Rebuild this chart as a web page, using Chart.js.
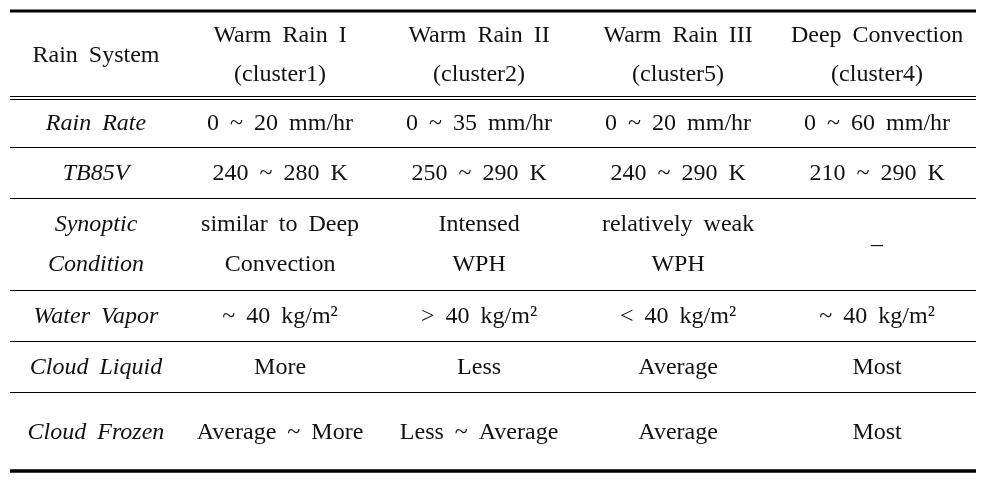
<!DOCTYPE html>
<html><head><meta charset="utf-8">
<script src="https://cdn.jsdelivr.net/npm/chart.js@4/dist/chart.umd.min.js"></script>
<style>html,body{margin:0;padding:0;background:#fff;} #wrap{width:986px;height:480px;position:relative;}</style>
</head><body><div id="wrap"><canvas id="c"></canvas></div>
<script>
// ---- table content (data) ----
const headerLabel = ['Rain System'];
const systems = [['Warm Rain I','(cluster1)'],['Warm Rain II','(cluster2)'],['Warm Rain III','(cluster5)'],['Deep Convection','(cluster4)']];
const rowLabels = [['Rain Rate'],['TB85V'],['Synoptic','Condition'],['Water Vapor'],['Cloud Liquid'],['Cloud Frozen']];
const rainRate = ['0 ~ 20 mm/hr','0 ~ 35 mm/hr','0 ~ 20 mm/hr','0 ~ 60 mm/hr'];
const tb85v = ['240 ~ 280 K','250 ~ 290 K','240 ~ 290 K','210 ~ 290 K'];
const synoptic = [['similar to Deep','Convection'],['Intensed','WPH'],['relatively weak','WPH'],['\u2013']];
const waterVapor = ['~ 40 kg/m\u00B2','> 40 kg/m\u00B2','< 40 kg/m\u00B2','~ 40 kg/m\u00B2'];
const cloudLiquid = ['More','Less','Average','Most'];
const cloudFrozen = ['Average ~ More','Less ~ Average','Average','Most'];

// ---- layout (positions / styles) ----
const labelColPos = 0.075;          // label column centre in column units
const rowBounds = [11, 97.5, 147, 198, 290, 341, 392, 471]; // y of horizontal rules
const lineGap = 40;

const tablePlugin = {
  id: 'tablePlugin',
  afterDraw(chart) {
    const ctx = chart.ctx;
    const xs = chart.scales.x, ys = chart.scales.y;
    const left = chart.chartArea.left, right = chart.chartArea.right;
    ctx.save();
    ctx.strokeStyle = '#000';
    const hline = (v, w, snap) => {
      let y = ys.getPixelForValue(v);
      if (snap) y = Math.round(y) + 0.5;
      ctx.lineWidth = w;
      ctx.beginPath(); ctx.moveTo(left, y); ctx.lineTo(right, y); ctx.stroke();
    };
    hline(rowBounds[0], 3, false);
    hline(rowBounds[1] - 1.5, 1, true);
    hline(rowBounds[1] + 1.5, 1, true);
    for (let i = 2; i < rowBounds.length - 1; i++) hline(rowBounds[i], 1, true);
    hline(rowBounds[rowBounds.length - 1], 3.5, false);

    ctx.fillStyle = '#111';
    ctx.textAlign = 'center';
    ctx.textBaseline = 'middle';
    try { ctx.wordSpacing = '5px'; } catch (e) {}
    const drawCell = (lines, col, row, italic, gap) => {
      ctx.font = (italic ? 'italic ' : '') + '24px "Liberation Serif", "DejaVu Serif", serif';
      const x = xs.getPixelForValue(col);
      const yc = (ys.getPixelForValue(rowBounds[row]) + ys.getPixelForValue(rowBounds[row + 1])) / 2 + 1;
      const n = lines.length;
      lines.forEach((t, k) => {
        ctx.fillText(t, x, yc + (k - (n - 1) / 2) * gap);
      });
    };
    drawCell(headerLabel, labelColPos, 0, false, 39);
    systems.forEach((s, i) => drawCell(s, i + 1, 0, false, 39));
    const rows = [rainRate, tb85v, synoptic, waterVapor, cloudLiquid, cloudFrozen];
    rows.forEach((r, ri) => {
      drawCell(rowLabels[ri], labelColPos, ri + 1, true, lineGap);
      r.forEach((v, ci) => drawCell(Array.isArray(v) ? v : [v], ci + 1, ri + 1, false, lineGap));
    });
    ctx.restore();
  }
};

new Chart(document.getElementById('c'), {
  type: 'scatter',
  data: { datasets: [{ data: [] }] },
  options: {
    responsive: true, maintainAspectRatio: false, animation: false,
    layout: { padding: { left: 10, right: 10, top: 0, bottom: 0 } },
    plugins: { legend: { display: false }, tooltip: { enabled: false } },
    scales: {
      x: { type: 'linear', min: -0.357, max: 4.497, display: false },
      y: { type: 'linear', min: 0, max: 480, reverse: true, display: false }
    }
  },
  plugins: [tablePlugin]
});
</script>
</body></html>
